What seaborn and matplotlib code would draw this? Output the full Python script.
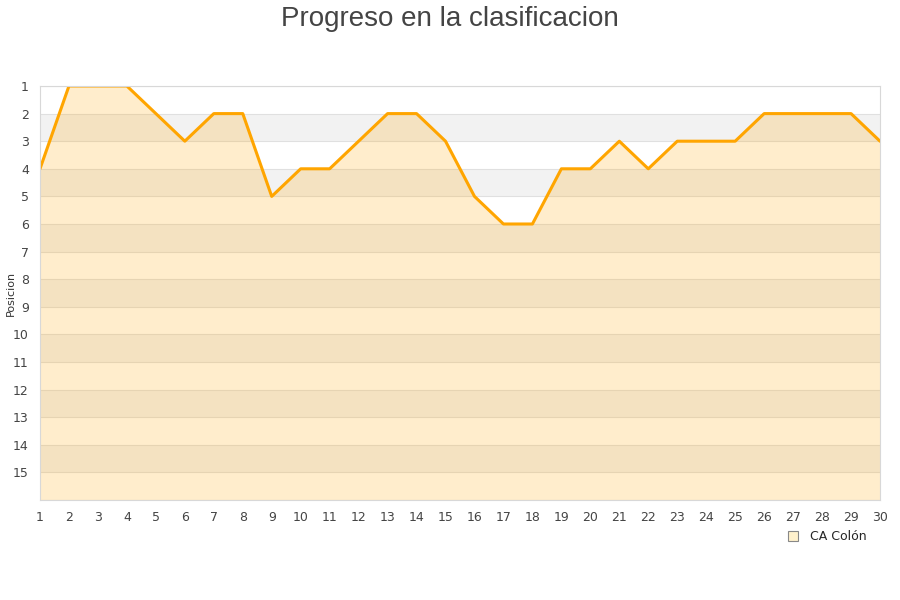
import matplotlib
matplotlib.use("Agg")
import matplotlib.pyplot as plt
import numpy as np
import pandas as pd
import seaborn as sns

jornadas = list(range(1, 31))
posicion = [4, 1, 1, 1, 2, 3, 2, 2, 5, 4, 4, 3, 2, 2, 3,
            5, 6, 6, 4, 4, 3, 4, 3, 3, 3, 2, 2, 2, 2, 3]
equipo = "CA Colón"

df = pd.DataFrame({"Jornada": jornadas, "Posicion": posicion})

sns.set_style("white")
plt.rcParams["font.family"] = ["DejaVu Sans"]

fig = plt.figure(figsize=(9, 6), dpi=100)
ax = fig.add_axes([40 / 900, 100 / 600, 840 / 900, 414 / 600])

# alternating bands
for k in range(2, 16, 2):
    ax.axhspan(k, k + 1, color="#f2f2f2", zorder=0, lw=0)
for k in range(1, 17):
    ax.axhline(k, color="#e0e0e0", lw=0.8, zorder=0.5)

ax.fill_between(df["Jornada"], df["Posicion"], 16, color="#ffa500", alpha=0.2, lw=0, zorder=1)
sns.lineplot(data=df, x="Jornada", y="Posicion", ax=ax, color="#ffa500", lw=2.2, zorder=2)

ax.set_xlim(1, 30)
ax.set_ylim(16, 1)
ax.set_xticks(jornadas)
ax.set_yticks(range(1, 16))
ax.tick_params(colors="#444444", labelsize=9, length=0)
ax.tick_params(axis="x", pad=8)
ax.tick_params(axis="y", pad=8)
ax.set_xlabel("")
ax.set_ylabel("")
for s in ax.spines.values():
    s.set_color("#d8d8d8")
    s.set_linewidth(0.8)

fig.text(11 / 900, 1 - 293 / 600, "Posicion", rotation=90, fontsize=8,
         color="#333333", ha="center", va="center")

fig.suptitle("Progreso en la clasificacion", fontsize=20, color="#444444",
             family="Liberation Sans", y=0.99)

handle = plt.Line2D([], [], marker="s", ls="", markersize=7,
                    markerfacecolor="#fff1cc", markeredgecolor="#888888", markeredgewidth=0.8)
fig.legend([handle], [equipo], loc="center right", bbox_to_anchor=(0.975, 0.105),
           frameon=False, fontsize=9, handletextpad=0.3)

fig.savefig("out.png", dpi=100)
